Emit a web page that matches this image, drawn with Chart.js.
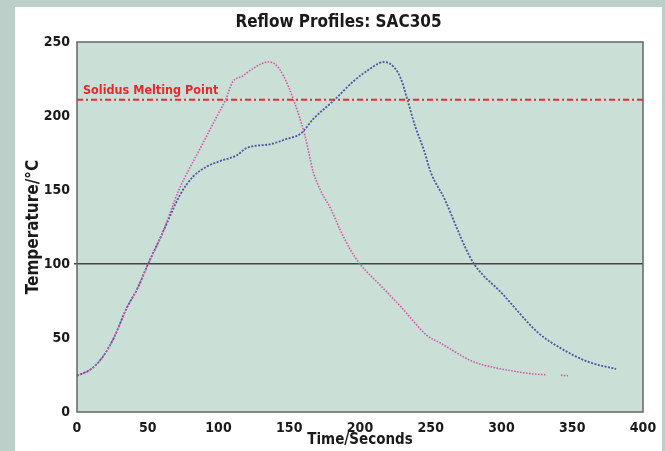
<!DOCTYPE html>
<html>
<head>
<meta charset="utf-8">
<script src="https://cdn.jsdelivr.net/npm/chart.js@4/dist/chart.umd.min.js"></script>
<style>
    html, body { margin: 0; padding: 0; background: #bccfc8; }
    #wrap { width: 665px; height: 451px; position: relative; }
</style>
</head>
<body>
<div id="wrap"><canvas id="profileChart" width="665" height="451"></canvas></div>
<script>
    const chartTitle = 'Reflow Profiles: SAC305';
    const xTitle = 'Time/Seconds';
    const yTitle = 'Temperature/°C';
    const solidusLabel = 'Solidus Melting Point';
    const solidusTemp = 211;
    const refLineTemp = 100;

    // profile 1 (pink)
    const pinkTime = [0, 10, 18, 26, 35, 43, 50, 60, 72, 87, 99, 105, 110, 117, 125, 135, 140, 146, 153, 161, 167, 172, 180, 186, 193, 200, 215, 229, 247, 257, 280, 295, 309, 325, 331, 336, 342, 347];
    const pinkTemp = [24.5, 29, 37, 50, 70, 84, 99.5, 120, 150, 178, 200, 211, 223, 227, 232.5, 236.5, 235, 227, 211, 187, 162, 150, 136, 123, 110, 100, 85, 71, 52, 46.5, 34, 30, 27.5, 25.5, 25.2, null, 24.8, 24.5];

    // profile 2 (blue)
    const blueTime = [0, 10, 18, 26, 35, 43, 50, 60, 73, 82, 92, 101, 113, 120, 137, 148, 158, 167, 182, 196, 205, 217, 224, 229, 233.5, 239, 245, 250, 260, 269, 274, 281, 300, 326, 342, 361, 381];
    const blueTemp = [24.5, 29, 37, 50, 70, 84, 99.5, 120, 147, 159, 166, 169.5, 173.5, 178.5, 181, 184.5, 188, 198, 211, 224, 230.5, 236.5, 233, 225, 211, 193, 177.5, 162, 143.5, 123, 112, 99.5, 80.5, 53.5, 43, 34, 29];

    const xTicks = [0, 50, 100, 150, 200, 250, 300, 350, 400];
    const yTicks = [0, 50, 100, 150, 200, 250];

    const narrow = "'Liberation Sans Narrow', 'DejaVu Sans Condensed', sans-serif";

    const toPoints = (xs, ys) => xs.map((x, i) => ({ x: x, y: ys[i] }));

    const panelPlugin = {
        id: 'panel',
        beforeDraw: (chart) => {
            const { ctx, chartArea: a } = chart;
            ctx.save();
            ctx.fillStyle = '#bccfc8';
            ctx.fillRect(0, 0, chart.width, chart.height);
            ctx.fillStyle = '#ffffff';
            ctx.fillRect(15, 7, 647, chart.height - 7);
            ctx.fillStyle = '#cadfd6';
            ctx.fillRect(a.left, a.top, a.right - a.left, a.bottom - a.top);
            ctx.restore();
        },
        afterDatasetsDraw: (chart) => {
            const { ctx, chartArea: a, scales } = chart;
            ctx.save();
            ctx.strokeStyle = '#666666';
            ctx.lineWidth = 1.5;
            ctx.strokeRect(a.left, a.top, a.right - a.left, a.bottom - a.top);
            // solidus label
            ctx.fillStyle = '#e8262e';
            ctx.font = 'bold 12.5px ' + narrow;
            ctx.textBaseline = 'alphabetic';
            ctx.textAlign = 'left';
            ctx.fillText(solidusLabel, a.left + 6, scales.y.getPixelForValue(solidusTemp) - 6);
            ctx.restore();
        }
    };

    document.addEventListener('DOMContentLoaded', () => {
        const ctx = document.getElementById('profileChart').getContext('2d');
        new Chart(ctx, {
            type: 'line',
            data: {
                datasets: [
                    {
                        label: 'Profile A',
                        data: toPoints(pinkTime, pinkTemp),
                        borderColor: '#d653a8',
                        borderWidth: 1.6,
                        borderDash: [1.5, 1.5],
                        pointRadius: 0,
                        cubicInterpolationMode: 'monotone',
                        spanGaps: false,
                        order: 1
                    },
                    {
                        label: 'Profile B',
                        data: toPoints(blueTime, blueTemp),
                        borderColor: '#4a56a3',
                        borderWidth: 1.8,
                        borderDash: [2, 1.5],
                        pointRadius: 0,
                        cubicInterpolationMode: 'monotone',
                        order: 2
                    },
                    {
                        label: 'Solidus',
                        data: toPoints([0, 400], [solidusTemp, solidusTemp]),
                        borderColor: '#ec2a33',
                        borderWidth: 2,
                        borderDash: [6, 3, 2, 3],
                        pointRadius: 0,
                        order: 3
                    }
                ]
            },
            options: {
                responsive: false,
                animation: false,
                events: [],
                layout: { padding: { left: 15, right: 3, top: 0, bottom: 0 } },
                plugins: {
                    legend: { display: false },
                    tooltip: { enabled: false },
                    title: {
                        display: true,
                        text: chartTitle,
                        color: '#1a1a1a',
                        font: { family: narrow, size: 17, weight: 'bold', lineHeight: 1.2 },
                        padding: { top: 12, bottom: 9.6 }
                    }
                },
                scales: {
                    x: {
                        type: 'linear',
                        min: 0,
                        max: 400,
                        afterBuildTicks: (scale) => { scale.ticks = xTicks.map(v => ({ value: v })); },
                        afterFit: (scale) => { scale.height = 39; },
                        grid: { display: false },
                        border: { display: false },
                        ticks: {
                            color: '#1a1a1a',
                            padding: 0,
                            maxRotation: 0,
                            font: { family: narrow, size: 14, weight: 'bold' }
                        },
                        title: {
                            display: true,
                            text: xTitle,
                            color: '#1a1a1a',
                            font: { family: narrow, size: 15, weight: 'bold', lineHeight: 1.2 },
                            padding: { top: 0, bottom: 2 }
                        }
                    },
                    y: {
                        min: 0,
                        max: 250,
                        afterBuildTicks: (scale) => { scale.ticks = yTicks.map(v => ({ value: v })); },
                        afterFit: (scale) => { scale.width = 62; },
                        grid: {
                            drawTicks: true,
                            tickLength: 3,
                            lineWidth: 1.5,
                            color: (c) => (c.tick && c.tick.value === refLineTemp) ? '#444444' : 'rgba(0,0,0,0)'
                        },
                        border: { display: false },
                        ticks: {
                            color: '#1a1a1a',
                            padding: 4,
                            font: { family: narrow, size: 14, weight: 'bold' }
                        },
                        title: {
                            display: true,
                            text: yTitle,
                            color: '#1a1a1a',
                            font: { family: narrow, size: 17, weight: 'bold', lineHeight: 1.2 },
                            padding: { top: 8, bottom: 0 }
                        }
                    },
                    yRight: {
                        position: 'right',
                        min: 0,
                        max: 250,
                        afterFit: (scale) => { scale.width = 19; },
                        grid: { display: false },
                        border: { display: false },
                        ticks: { display: false }
                    }
                }
            },
            plugins: [panelPlugin]
        });
    });
</script>
</body>
</html>
